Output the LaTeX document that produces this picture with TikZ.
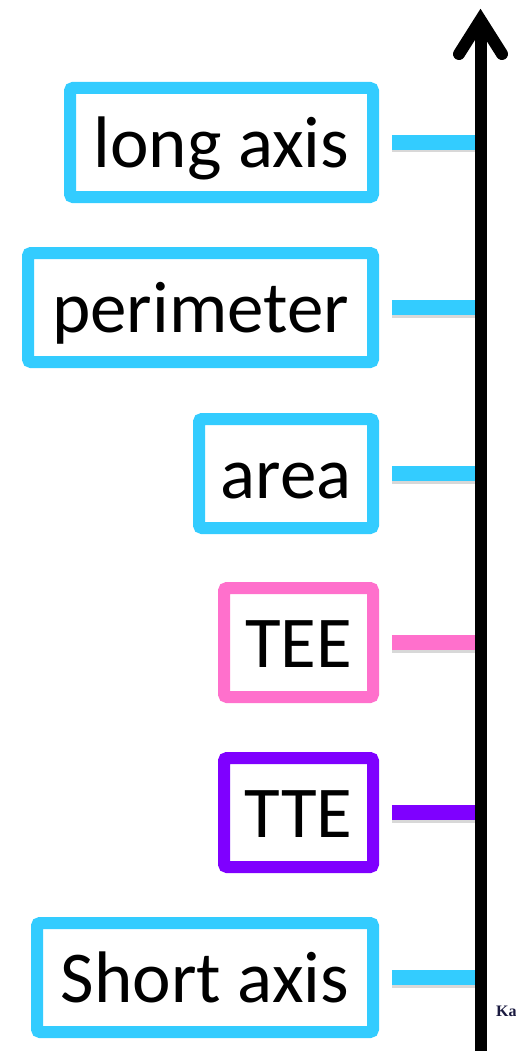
\documentclass[tikz,border=0pt]{standalone}
\usepackage{fontspec}
\setmainfont{Carlito}
\newfontfamily\serifK{Liberation Serif}
\definecolor{cyanb}{HTML}{33CCFF}
\definecolor{pinkb}{HTML}{FF70CC}
\definecolor{purpb}{HTML}{7F00FF}
\definecolor{navyk}{HTML}{1A1A40}
\begin{document}
\begin{tikzpicture}[x=1pt,y=-1pt,
  labelbox/.style={draw=#1, line width=12pt, rounded corners=3pt, fill=white,
    minimum height=109pt, inner sep=0pt, text height=60pt, text depth=10pt,
    font=\fontsize{73}{80}\selectfont, text=black},
  tick/.style={draw=#1, line width=15pt},
  tickshadow/.style={draw=black!30, line width=12pt, opacity=0.5},
  axisline/.style={draw=black, line width=12pt}]
\useasboundingbox (0,0) rectangle (516,1051);
% boxes
\node[labelbox=cyanb, minimum width=303pt] (la) at (221.5,142.5) {long axis};
\node[labelbox=cyanb, minimum width=345pt] (pe) at (200.5,307.5) {perimeter};
\node[labelbox=cyanb, minimum width=174pt] (ar) at (286,473.5) {area};
\node[labelbox=pinkb, minimum width=149pt] (tee) at (298.5,642.5) {TEE};
\node[labelbox=purpb, minimum width=149pt] (tte) at (298.5,812.5) {TTE};
\node[labelbox=cyanb, minimum width=336pt] (sa) at (205,977.5) {Short axis};
% axis
\coordinate (axbot) at (480.5,1060);
\coordinate (axtop) at (480.5,20);
\coordinate (wl) at (459,54);
\coordinate (wr) at (502,54);
% ticks
\foreach \n/\c in {la/cyanb,pe/cyanb,ar/cyanb,tee/pinkb,tte/purpb,sa/cyanb}{
  \coordinate (\n s) at ([xshift=13pt]\n.east);
  \coordinate (\n e) at (axbot |- \n.east);
  \draw[tickshadow] ([yshift=-4pt]\n s) -- ([yshift=-4pt]\n e);
  \draw[tick=\c] (\n s) -- (\n e);
}
\draw[axisline] (axbot) -- (axtop);
\draw[axisline, line cap=round, line join=miter] (wl) -- (axtop) -- (wr);
% cropped corner text
\node[anchor=base west, inner sep=0pt, text=navyk, font=\serifK\bfseries\fontsize{16}{18}\selectfont] (ka) at (496,1016) {Ka};
\end{tikzpicture}
\end{document}
